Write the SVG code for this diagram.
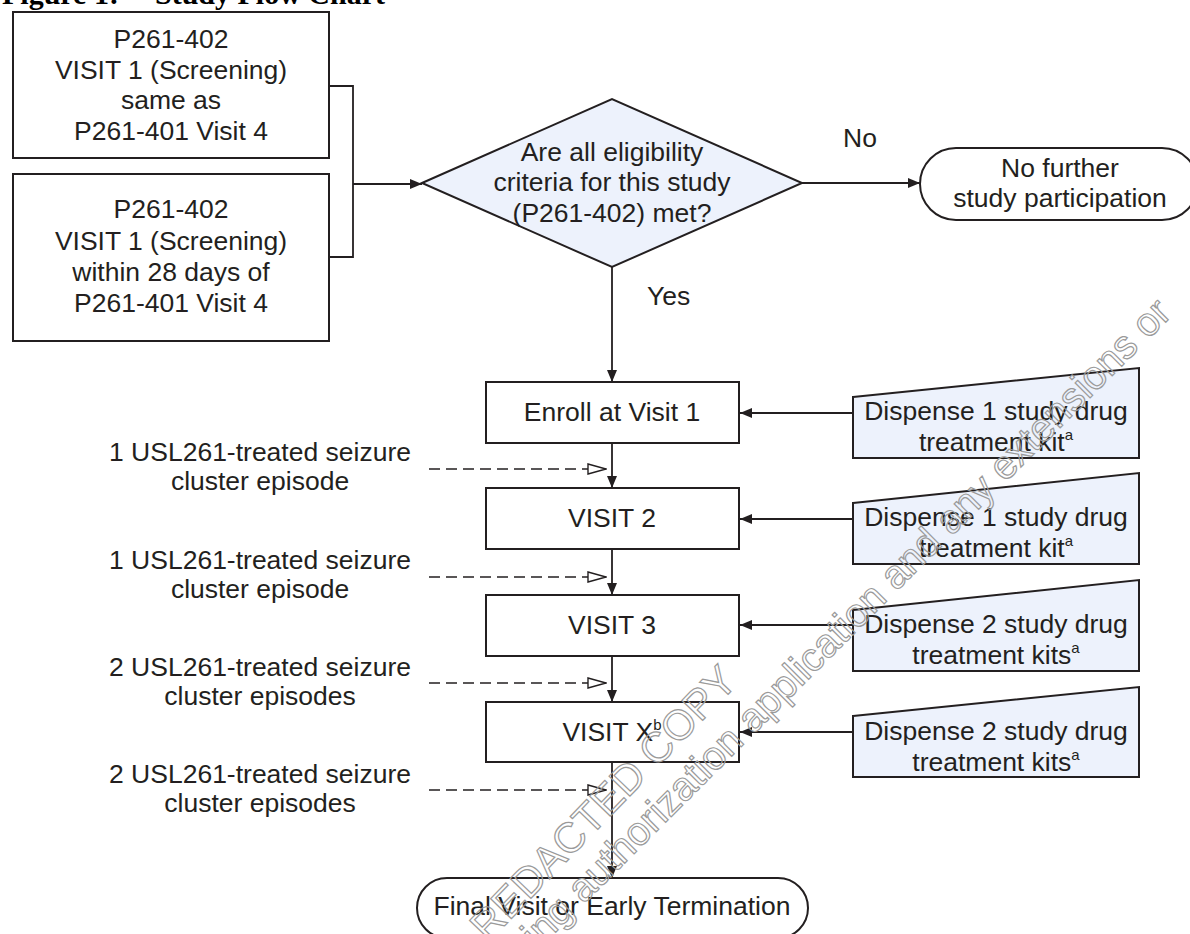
<svg xmlns="http://www.w3.org/2000/svg" width="1190" height="934" viewBox="0 0 1190 934">
<style>
.box{fill:#fff;stroke:#231f20;stroke-width:2}
.dec{fill:#edf2fc;stroke:#231f20;stroke-width:2}
.t{font-family:"Liberation Sans",Arial,sans-serif;font-size:26.5px;fill:#231f20;text-anchor:middle}
.l{font-family:"Liberation Sans",Arial,sans-serif;font-size:26.5px;fill:#231f20}
.sup{font-size:15px}
.ln{stroke:#231f20;stroke-width:1.8;fill:none}
.dash{stroke:#231f20;stroke-width:1.4;stroke-dasharray:11 6;fill:none}
.title{font-family:"Liberation Serif","Times New Roman",serif;font-size:30px;font-weight:bold;fill:#000}
.wm{font-family:"Liberation Sans",Arial,sans-serif;fill:none;stroke:#9a9a9a;stroke-width:1.2}
</style>
<defs>
<marker id="ah" viewBox="0 0 12 10" refX="12" refY="5" markerWidth="12" markerHeight="10" markerUnits="userSpaceOnUse" orient="auto">
<path d="M0,0 L12,5 L0,10 z" fill="#231f20"/>
</marker>
<marker id="oh" viewBox="0 0 20 12" refX="19" refY="6" markerWidth="20" markerHeight="12" markerUnits="userSpaceOnUse" orient="auto">
<path d="M1,1 L19,6 L1,11 z" fill="#fff" stroke="#231f20" stroke-width="1.4" stroke-dasharray="none"/>
</marker>
</defs>
<rect width="1190" height="934" fill="#fff"/>
<g id="title">
<text class="title" x="2" y="4">Figure 1:</text>
<text class="title" x="155" y="4">Study Flow Chart</text>
</g>
<g id="connectors">
<path class="ln" d="M329,86 H353 V257 H329"/>
<path class="ln" d="M353,184 H422" marker-end="url(#ah)"/>
<path class="ln" d="M802,183 H920" marker-end="url(#ah)"/>
<path class="ln" d="M612,267 V382" marker-end="url(#ah)"/>
<path class="ln" d="M612,443 V488" marker-end="url(#ah)"/>
<path class="ln" d="M612,549 V595" marker-end="url(#ah)"/>
<path class="ln" d="M612,656 V702" marker-end="url(#ah)"/>
<path class="ln" d="M612,762 V878" marker-end="url(#ah)"/>
<path class="dash" d="M429,469 H606" marker-end="url(#oh)"/>
<path class="dash" d="M429,577 H606" marker-end="url(#oh)"/>
<path class="dash" d="M429,683 H606" marker-end="url(#oh)"/>
<path class="dash" d="M429,790 H606" marker-end="url(#oh)"/>
<path class="ln" d="M853,413 H740" marker-end="url(#ah)"/>
<path class="ln" d="M853,519 H740" marker-end="url(#ah)"/>
<path class="ln" d="M853,625 H740" marker-end="url(#ah)"/>
<path class="ln" d="M853,732 H740" marker-end="url(#ah)"/>
<text class="l" x="843" y="147">No</text>
<text class="l" x="647" y="305">Yes</text>
</g>
<g id="screen1">
<rect class="box" x="13" y="12" width="316" height="146"/>
<text class="t" x="171" y="48">P261-402</text>
<text class="t" x="171" y="79">VISIT 1 (Screening)</text>
<text class="t" x="171" y="109">same as</text>
<text class="t" x="171" y="140">P261-401 Visit 4</text>
</g>
<g id="screen2">
<rect class="box" x="13" y="174" width="316" height="167"/>
<text class="t" x="171" y="218">P261-402</text>
<text class="t" x="171" y="250">VISIT 1 (Screening)</text>
<text class="t" x="171" y="281">within 28 days of</text>
<text class="t" x="171" y="312">P261-401 Visit 4</text>
</g>
<g id="decision">
<polygon class="dec" points="422,183 612,99 802,183 612,267"/>
<text class="t" x="612" y="161">Are all eligibility</text>
<text class="t" x="612" y="191">criteria for this study</text>
<text class="t" x="612" y="222">(P261-402) met?</text>
</g>
<g id="nofurther">
<rect class="box" x="920" y="148" width="278" height="72" rx="36"/>
<text class="t" x="1060" y="177">No further</text>
<text class="t" x="1060" y="207">study participation</text>
</g>
<g id="enroll">
<rect class="box" x="486" y="382" width="253" height="61"/>
<text class="t" x="612" y="421">Enroll at Visit 1</text>
</g>
<g id="visit2">
<rect class="box" x="486" y="488" width="253" height="61"/>
<text class="t" x="612" y="527">VISIT 2</text>
</g>
<g id="visit3">
<rect class="box" x="486" y="595" width="253" height="61"/>
<text class="t" x="612" y="634">VISIT 3</text>
</g>
<g id="visitx">
<rect class="box" x="486" y="702" width="253" height="60"/>
<text class="t" x="612" y="741">VISIT X<tspan class="sup" dy="-11">b</tspan></text>
</g>
<g id="final">
<rect class="box" x="417" y="878" width="391" height="60" rx="30"/>
<text class="t" x="612" y="915">Final Visit or Early Termination</text>
</g>
<g id="dispense1">
<polygon class="dec" points="853,397 1139,368 1139,458 853,458"/>
<text class="t" x="996" y="420">Dispense 1 study drug</text>
<text class="t" x="996" y="451">treatment kit<tspan class="sup" dy="-11">a</tspan></text>
</g>
<g id="dispense2">
<polygon class="dec" points="853,503 1139,473 1139,564 853,564"/>
<text class="t" x="996" y="526">Dispense 1 study drug</text>
<text class="t" x="996" y="557">treatment kit<tspan class="sup" dy="-11">a</tspan></text>
</g>
<g id="dispense3">
<polygon class="dec" points="853,610 1139,580 1139,671 853,671"/>
<text class="t" x="996" y="633">Dispense 2 study drug</text>
<text class="t" x="996" y="664">treatment kits<tspan class="sup" dy="-11">a</tspan></text>
</g>
<g id="dispense4">
<polygon class="dec" points="853,716 1139,687 1139,777 853,777"/>
<text class="t" x="996" y="740">Dispense 2 study drug</text>
<text class="t" x="996" y="771">treatment kits<tspan class="sup" dy="-11">a</tspan></text>
</g>
<g id="episode1">
<text class="t" x="260" y="461">1 USL261-treated seizure</text>
<text class="t" x="260" y="490">cluster episode</text>
</g>
<g id="episode2">
<text class="t" x="260" y="569">1 USL261-treated seizure</text>
<text class="t" x="260" y="598">cluster episode</text>
</g>
<g id="episode3">
<text class="t" x="260" y="676">2 USL261-treated seizure</text>
<text class="t" x="260" y="705">cluster episodes</text>
</g>
<g id="episode4">
<text class="t" x="260" y="783">2 USL261-treated seizure</text>
<text class="t" x="260" y="812">cluster episodes</text>
</g>
<g id="watermark">
<text class="wm" font-size="42" transform="translate(488,943) rotate(-46)">REDACTED COPY</text>
<text class="wm" font-size="40" transform="translate(530,958) rotate(-45)">ting authorization application and any extensions or</text>
</g>
</svg>
